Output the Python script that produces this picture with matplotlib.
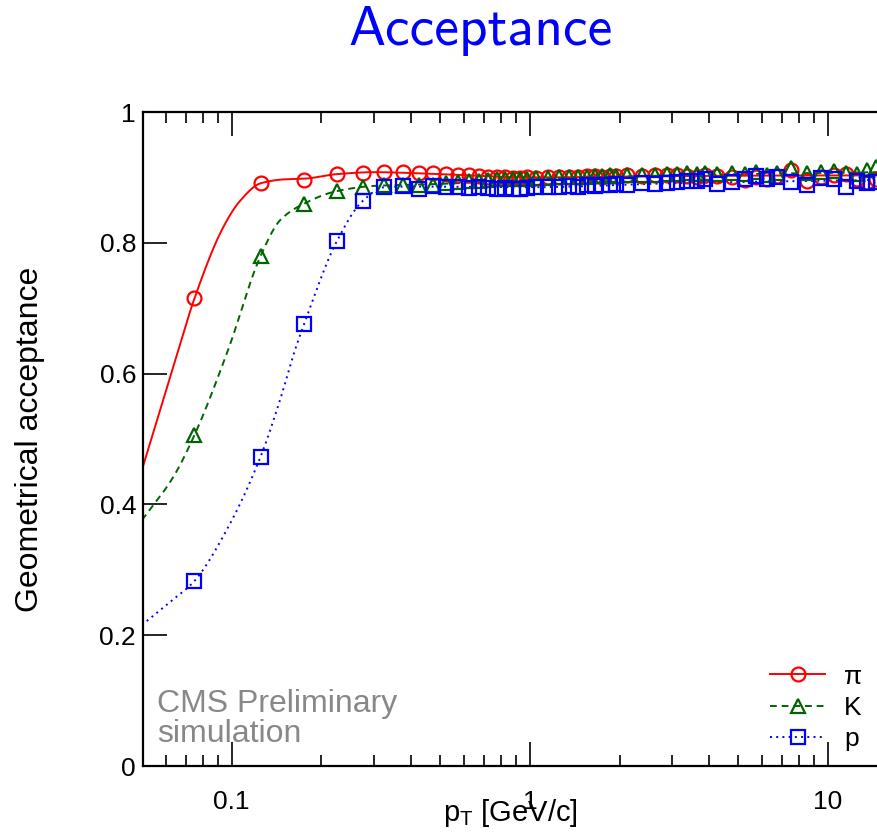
import numpy as np
import matplotlib
matplotlib.use("Agg")
import matplotlib.pyplot as plt
from matplotlib.ticker import LogLocator, FixedLocator, NullFormatter

plt.rcParams['font.family'] = ['Liberation Sans', 'DejaVu Sans']
plt.rcParams['mathtext.fontset'] = 'custom'
plt.rcParams['mathtext.rm'] = 'Liberation Sans'
plt.rcParams['mathtext.it'] = 'Liberation Sans'

# bin centres (GeV/c)
pt = [0.075, 0.125, 0.175, 0.225, 0.275, 0.325, 0.375, 0.425, 0.475,
      0.525, 0.575, 0.625, 0.675, 0.725, 0.775, 0.825, 0.875, 0.925, 0.975,
      1.05, 1.15, 1.25, 1.35, 1.45, 1.55, 1.65, 1.75, 1.85, 1.95,
      2.125, 2.375, 2.625, 2.875, 3.125, 3.375, 3.625, 3.875,
      4.25, 4.75, 5.25, 5.75, 6.25, 6.75,
      7.5, 8.5, 9.5, 10.5, 11.5, 12.5, 13.5, 14.5]

acc_pi = [0.715, 0.891, 0.896, 0.905, 0.907, 0.908, 0.908, 0.906, 0.906,
          0.905, 0.904, 0.903, 0.902, 0.901, 0.900, 0.900, 0.899, 0.899, 0.900,
          0.899, 0.900, 0.900, 0.901, 0.901, 0.902, 0.902, 0.901, 0.902, 0.902,
          0.903, 0.902, 0.904, 0.903, 0.903, 0.902, 0.901, 0.904,
          0.902, 0.900, 0.896, 0.901, 0.897, 0.902,
          0.912, 0.895, 0.900, 0.903, 0.905, 0.898, 0.893, 0.897]

acc_k = [0.506, 0.780, 0.860, 0.879, 0.886, 0.888, 0.889, 0.889, 0.889,
         0.892, 0.893, 0.894, 0.895, 0.896, 0.897, 0.897, 0.898, 0.898, 0.898,
         0.899, 0.899, 0.900, 0.900, 0.901, 0.901, 0.902, 0.902, 0.903, 0.902,
         0.903, 0.904, 0.904, 0.905, 0.905, 0.906, 0.905, 0.906,
         0.905, 0.907, 0.905, 0.909, 0.904, 0.906,
         0.914, 0.906, 0.909, 0.910, 0.907, 0.905, 0.911, 0.916]

acc_p = [0.283, 0.473, 0.676, 0.802, 0.864, 0.885, 0.887, 0.883, 0.887,
         0.886, 0.885, 0.884, 0.886, 0.884, 0.883, 0.884, 0.882, 0.883, 0.884,
         0.885, 0.886, 0.885, 0.887, 0.886, 0.888, 0.887, 0.889, 0.888, 0.890,
         0.889, 0.891, 0.890, 0.892, 0.893, 0.894, 0.895, 0.897,
         0.890, 0.893, 0.898, 0.902, 0.897, 0.901,
         0.893, 0.889, 0.899, 0.897, 0.886, 0.894, 0.891, 0.893]

# fitted curves at a few pT values
fit_pt_pi = [0.05, 0.0662, 0.075, 0.0937, 0.1066, 0.125, 0.15, 0.175, 0.225, 0.3, 0.5, 1.0, 3.0, 10.0, 14.6]
fit_pi = [0.453, 0.636, 0.715, 0.824, 0.864, 0.891, 0.897, 0.898, 0.905, 0.908, 0.905, 0.900, 0.902, 0.903, 0.903]

fit_pt_k = [0.05, 0.0637, 0.075, 0.0972, 0.125, 0.1456, 0.175, 0.225, 0.3, 0.5, 1.0, 3.0, 10.0, 14.6]
fit_k = [0.376, 0.442, 0.506, 0.636, 0.780, 0.835, 0.860, 0.879, 0.887, 0.890, 0.897, 0.903, 0.907, 0.908]

fit_pt_p = [0.05, 0.0614, 0.075, 0.0962, 0.125, 0.1453, 0.163, 0.175, 0.225, 0.275, 0.325, 0.4, 1.0, 3.0, 10.0, 14.6]
fit_p = [0.2156, 0.249, 0.283, 0.361, 0.473, 0.560, 0.636, 0.676, 0.802, 0.864, 0.885, 0.886, 0.885, 0.891, 0.895, 0.896]


def pchip(x, y, xn):
    # monotone cubic (Fritsch-Carlson), done by hand since scipy may be missing
    x = np.asarray(x, float)
    y = np.asarray(y, float)
    h = np.diff(x)
    d = np.diff(y) / h
    m = np.zeros_like(y)
    m[0] = d[0]
    m[-1] = d[-1]
    for k in range(1, len(x) - 1):
        if d[k - 1] * d[k] > 0:
            w1 = 2 * h[k] + h[k - 1]
            w2 = h[k] + 2 * h[k - 1]
            m[k] = (w1 + w2) / (w1 / d[k - 1] + w2 / d[k])
    i = np.clip(np.searchsorted(x, xn) - 1, 0, len(x) - 2)
    t = (xn - x[i]) / h[i]
    h00 = 2 * t**3 - 3 * t**2 + 1
    h10 = t**3 - 2 * t**2 + t
    h01 = -2 * t**3 + 3 * t**2
    h11 = t**3 - t**2
    return h00 * y[i] + h10 * h[i] * m[i] + h01 * y[i + 1] + h11 * h[i] * m[i + 1]


def smooth(xk, yk):
    lx = np.log10(xk)
    xs = np.linspace(lx[0], lx[-1], 600)
    return 10**xs, pchip(lx, yk, xs)


fig = plt.figure(figsize=(8.77, 8.32), dpi=100)
ax = fig.add_axes([143 / 877, 66 / 832, 734 / 877, 654 / 832])

red = '#ff0000'
green = '#006400'
blue = '#0000ff'

series = [
    (fit_pt_pi, fit_pi, acc_pi, red, '-', 'o', 'π'),
    (fit_pt_k, fit_k, acc_k, green, (0, (3.5, 2.5)), '^', 'K'),
    (fit_pt_p, fit_p, acc_p, blue, (0, (1, 2.2)), 's', 'p'),
]
for fx, fy, vals, col, ls, mk, lab in series:
    sx, sy = smooth(fx, fy)
    ax.plot(sx, sy, color=col, ls=ls, lw=1.4, zorder=2)
    ax.plot(pt, vals, ls='none', marker=mk, ms=10, mfc='none', mec=col, mew=1.6, zorder=3)
    # legend proxy: line + one marker
    ax.plot([], [], color=col, ls=ls, lw=1.4, marker=mk, ms=10, mfc='none', mec=col, mew=1.6, label=lab)

ax.set_xscale('log')
ax.set_xlim(0.0504, 14.6)
ax.set_ylim(0, 1)

ax.xaxis.set_major_locator(FixedLocator([0.1, 1, 10]))
ax.set_xticklabels(['0.1', '1', '10'])
ax.xaxis.set_minor_locator(LogLocator(base=10, subs=np.arange(2, 10)))
ax.xaxis.set_minor_formatter(NullFormatter())
ax.set_yticks([0, 0.2, 0.4, 0.6, 0.8, 1.0])
ax.set_yticklabels(['0', '0.2', '0.4', '0.6', '0.8', '1'])

ax.tick_params(axis='both', which='both', direction='in', top=True, right=False, width=1.2, labelsize=19)
ax.tick_params(axis='x', which='major', length=17, pad=17)
ax.tick_params(axis='x', which='minor', length=8)
ax.tick_params(axis='y', which='major', length=17, pad=5)
for s in ['left', 'bottom', 'top']:
    ax.spines[s].set_linewidth(1.6)
ax.spines['right'].set_visible(False)

ax.set_ylabel('Geometrical acceptance', fontsize=23)
ax.yaxis.set_label_coords(-0.1335, 0.5)
ax.set_xlabel(r'$\mathrm{p_T}$ [GeV/c]', fontsize=21, labelpad=-12)

ax.text(14 / 734, 54 / 654, 'CMS Preliminary', transform=ax.transAxes,
        fontsize=23, color='#888888', va='baseline')
ax.text(14 / 734, 24 / 654, 'simulation', transform=ax.transAxes,
        fontsize=23, color='#888888', va='baseline')

ax.legend(loc='center left', bbox_to_anchor=(627 / 734, 58 / 654), frameon=False,
          fontsize=19, numpoints=1, handlelength=2.1, handletextpad=0.7,
          labelspacing=0.28, borderpad=0, borderaxespad=0)

fig.text(481 / 877, 1 - 45 / 832, 'Acceptance', family='cmss10', fontsize=40,
         color=blue, ha='center', va='baseline')

fig.savefig('out.png', dpi=100)
